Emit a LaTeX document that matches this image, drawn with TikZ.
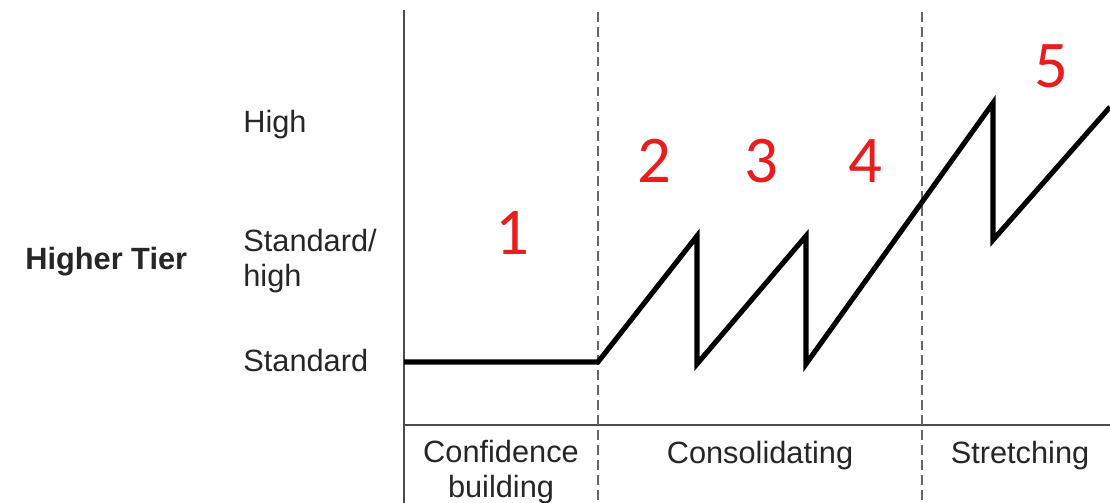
\documentclass[tikz,border=0pt]{standalone}
\usepackage{fontspec}
\setmainfont{Liberation Sans}
\newfontfamily\numfont{Carlito}
\usetikzlibrary{positioning}
\definecolor{stagered}{RGB}{230,30,30}

\tikzset{
  lvl/.style={anchor=base west, text=black!85, font=\fontsize{17.5}{20}\selectfont, align=left, inner sep=0pt},
  phase/.style={anchor=base, text=black!85, font=\fontsize{17.5}{20}\selectfont, align=center, inner sep=0pt},
  stage/.style={anchor=base, text=stagered, font=\numfont\fontsize{38}{40}\selectfont, inner sep=0pt},
  axis/.style={line width=1.1pt, black!70},
  divider/.style={line width=0.8pt, black!60, dash pattern=on 5.5pt off 3pt},
}

\begin{document}
\begin{tikzpicture}[x=0.02cm, y=-0.02cm]
  \useasboundingbox (0,0) rectangle (1110,503);
  % axes and phase dividers
  \draw[axis] (404,10) -- (404,503);
  \draw[axis] (404,425) -- (1110,425);
  \draw[divider] (598,12) -- (598,503);
  \draw[divider] (922,12) -- (922,503);
  % progress line
  \draw[line width=2.9pt, line join=miter] (404,362) -- (598,362) -- (697,236) -- (697,364)
    -- (806,236) -- (806,364) -- (993,103) -- (993,240) -- (1110,107);
  % levels (base of a two-line node is its last line)
  \node[lvl, font=\fontsize{17.5}{20}\selectfont\bfseries] (tier) at (25,270) {Higher Tier};
  \node[lvl] (high) at (243,133) {High};
  \node[lvl] (midhigh) at (243,287) {Standard/\\high};
  \node[lvl] (std) at (243,372) {Standard};
  % phases
  \node[phase] (conf) at (501,498) {Confidence\\building};
  \node[phase] (cons) at (760,463) {Consolidating};
  \node[phase] (stretch) at (1020,463) {Stretching};
  % stages
  \node[stage] (s1) at (512,255) {1};
  \node[stage] (s2) at (654,183) {2};
  \node[stage] (s3) at (761,183) {3};
  \node[stage] (s4) at (865,183) {4};
  \node[stage] (s5) at (1051,88) {5};
\end{tikzpicture}
\end{document}
